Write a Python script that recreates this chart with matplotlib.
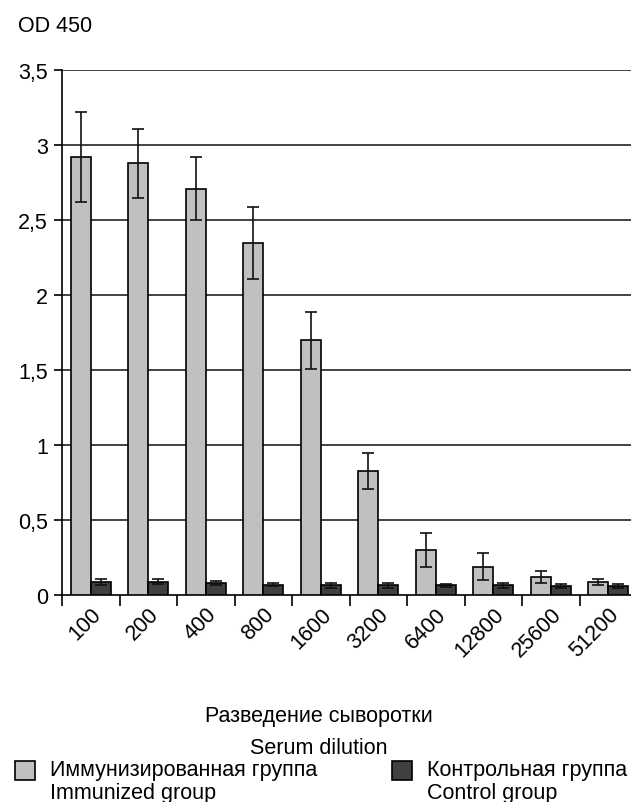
import matplotlib
matplotlib.use('Agg')
import matplotlib.pyplot as plt
import numpy as np
from matplotlib.patches import Rectangle

plt.rcParams['font.family'] = ['Liberation Sans', 'DejaVu Sans']

# =========================================================================
# data
dilutions = ['100', '200', '400', '800', '1600', '3200', '6400', '12800', '25600', '51200']
immunized = [2.92, 2.88, 2.71, 2.35, 1.70, 0.83, 0.30, 0.19, 0.12, 0.09]
immunized_err = [0.30, 0.23, 0.21, 0.24, 0.19, 0.12, 0.115, 0.09, 0.04, 0.02]
control = [0.09, 0.09, 0.08, 0.07, 0.065, 0.065, 0.065, 0.065, 0.06, 0.06]
control_err = [0.02, 0.015, 0.015, 0.01, 0.015, 0.015, 0.01, 0.015, 0.015, 0.015]
y_ticks = [0, 0.5, 1, 1.5, 2, 2.5, 3, 3.5]
# =========================================================================

light = '#c0c0c0'
dark = '#404040'
fs = 15.5

fig = plt.figure(figsize=(6.31, 8.03), dpi=100)
ax = fig.add_axes([62 / 631, 1 - 596 / 803, 575 / 631, 525 / 803])

x = np.arange(len(dilutions))
w = 0.35
ax.bar(x - w / 2, immunized, w, color=light, edgecolor='black', linewidth=1.2, zorder=3,
       yerr=immunized_err, error_kw=dict(ecolor='#111111', elinewidth=1.2, capsize=4, capthick=1.2))
ax.bar(x + w / 2, control, w, color=dark, edgecolor='black', linewidth=1.2, zorder=3,
       yerr=control_err, error_kw=dict(ecolor='#111111', elinewidth=1.2, capsize=4, capthick=1.2))

ax.set_xlim(-0.5, len(dilutions) - 0.5)
ax.set_ylim(0, 3.5)
ax.set_yticks(y_ticks)
ax.set_yticklabels([('%g' % v).replace('.', ',') for v in y_ticks], fontsize=fs)
for v in y_ticks[1:]:
    ax.axhline(v, color='#222222', linewidth=1.2, zorder=1)

ax.set_xticks(x)
ax.set_xticklabels(dilutions, rotation=45, ha='right', rotation_mode='anchor', fontsize=fs)
ax.tick_params(axis='x', length=0, pad=6)
ax.set_xticks(np.arange(len(dilutions)) - 0.5, minor=True)
ax.tick_params(axis='x', which='minor', length=8, width=1.2, direction='out')
ax.tick_params(axis='y', length=6, width=1.2, direction='out', pad=4)

for s in ['top', 'right']:
    ax.spines[s].set_visible(False)
ax.spines['left'].set_linewidth(1.2)
ax.spines['bottom'].set_linewidth(1.2)

fig.text(18 / 631, 1 - 27 / 803, 'OD 450', fontsize=fs, va='center', ha='left')
fig.text(319 / 631, 1 - 717 / 803, 'Разведение сыворотки', fontsize=fs, ha='center', va='center')
fig.text(319 / 631, 1 - 749 / 803, 'Serum dilution', fontsize=fs, ha='center', va='center')

# legend drawn by hand so the box sits next to the first text line
for (x0, col, l1, l2) in [(15, light, 'Иммунизированная группа', 'Immunized group'),
                          (392, dark, 'Контрольная группа', 'Control group')]:
    fig.add_artist(Rectangle((x0 / 631, 1 - 781 / 803), 20 / 631, 19 / 803,
                             transform=fig.transFigure, facecolor=col, edgecolor='black', linewidth=1.2))
    fig.text((x0 + 35) / 631, 1 - 771 / 803, l1, fontsize=fs, ha='left', va='center')
    fig.text((x0 + 35) / 631, 1 - 794 / 803, l2, fontsize=fs, ha='left', va='center')

plt.savefig('out.png', dpi=100)
plt.close()
